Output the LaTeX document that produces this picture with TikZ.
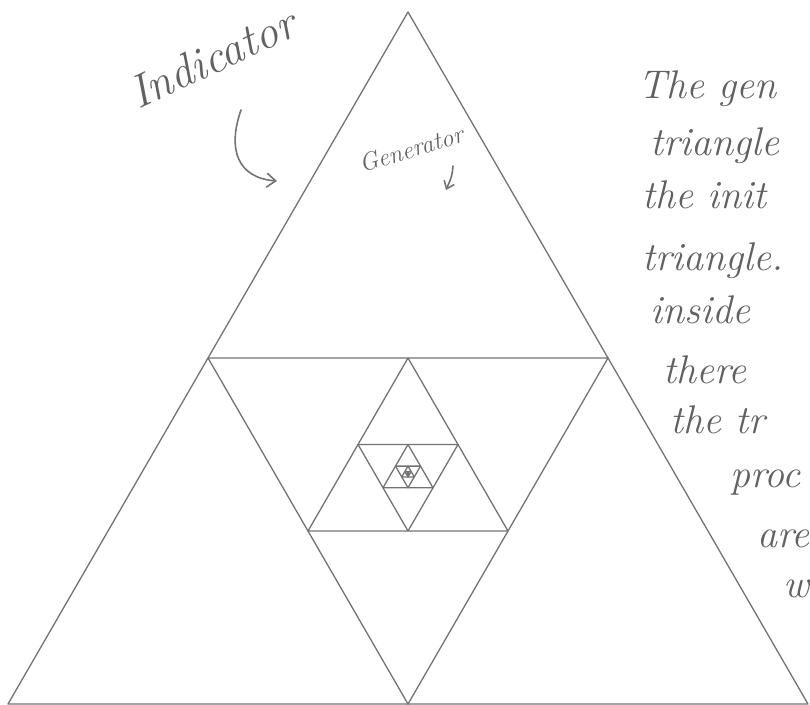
\documentclass[tikz,border=0pt]{standalone}
\usetikzlibrary{calc,arrows.meta}
\begin{document}
\begin{tikzpicture}[x=1pt,y=-1pt,
  tri/.style={draw=black!55,line width=1.3pt,line join=round},
  pen/.style={text=black!62,font=\fontsize{40}{48}\selectfont\itshape,inner sep=0pt,anchor=base west},
  hook/.style={draw=black!55,line width=1.6pt,line cap=round,-{Straight Barb[length=9pt,width=14pt]}}]
\useasboundingbox (0,0) rectangle (810,704);
\clip (0,0) rectangle (810,704);
% initiator and the nested generators
\coordinate (A0) at (408,12); \coordinate (B0) at (8,704); \coordinate (C0) at (808,704);
\draw[tri] (A0)--(B0)--(C0)--cycle;
\foreach \k [remember=\k as \j (initially 0)] in {1,...,12}{
  \coordinate (A\k) at ($(B\j)!.5!(C\j)$);
  \coordinate (B\k) at ($(A\j)!.5!(C\j)$);
  \coordinate (C\k) at ($(A\j)!.5!(B\j)$);
  \draw[tri] (A\k)--(B\k)--(C\k)--cycle;
}
% labels
\node[pen,anchor=center,rotate=25,font=\fontsize{46}{52}\selectfont\itshape] (initiator) at (212,58) {Indicator};
\node[pen,anchor=center,rotate=17,font=\fontsize{25}{30}\selectfont\itshape] (generator) at (411,149) {Generator};
\coordinate (ini-from) at (241,110); \coordinate (ini-to) at (277,181);
\coordinate (gen-from) at (453,166); \coordinate (gen-to) at (446,190);
\draw[hook] (ini-from) .. controls (227,150) and (238,178) .. (ini-to);
\draw[hook,-{Straight Barb[length=7pt,width=11pt]}] (gen-from) .. controls (452,176) .. (gen-to);
% notes on the right
\foreach \t/\x/\y [count=\i] in {The gen/638/98,triangle/650/155,the init/642/208,triangle./642/270,inside/650/323,there/663/383,the tr/670/433,proc/730/487,are/757/547,w/783/597}
  \node[pen] (note\i) at (\x,\y) {\t};
\end{tikzpicture}
\end{document}
